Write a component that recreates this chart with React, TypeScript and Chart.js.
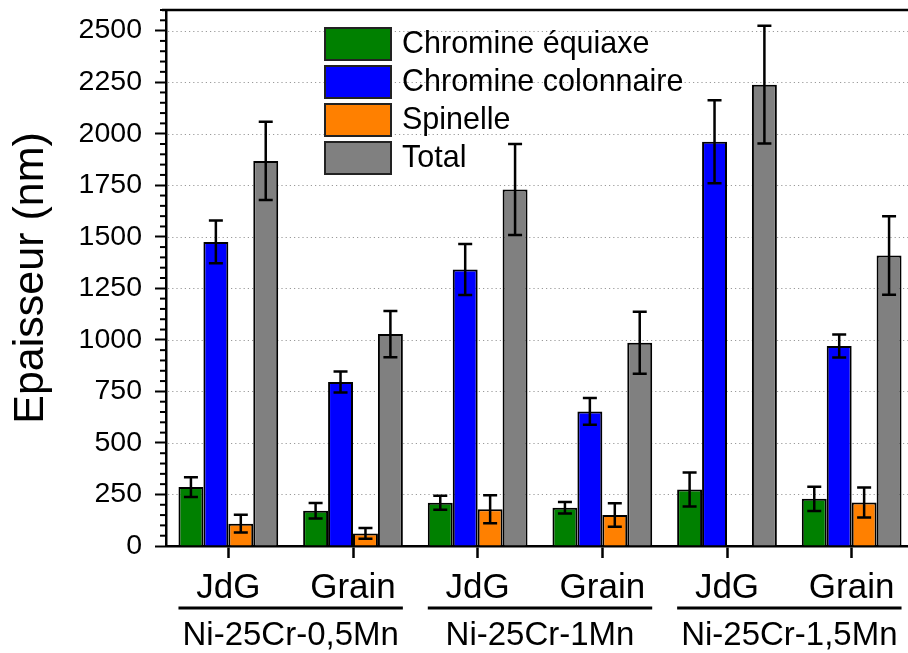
import React, { useEffect, useRef } from "react";
import { Chart, registerables } from "chart.js";

Chart.register(...registerables);

const categories = ["JdG", "Grain", "JdG", "Grain", "JdG", "Grain"];
const groups = ["Ni-25Cr-0,5Mn", "Ni-25Cr-1Mn", "Ni-25Cr-1,5Mn"];

const equiaxe = [286, 171, 210, 186, 274, 229];
const equiaxeErr = [48, 38, 34, 28, 83, 59];
const colonnaire = [1475, 795, 1341, 653, 1961, 970];
const colonnaireErr = [104, 51, 124, 65, 201, 56];
const spinelle = [108, 61, 178, 150, 0, 211];
const spinelleErr = [43, 26, 68, 57, 0, 73];
const total = [1868, 1028, 1729, 986, 2238, 1409];
const totalErr = [190, 112, 221, 150, 285, 190];

const seriesLabels = ["Chromine équiaxe", "Chromine colonnaire", "Spinelle", "Total"];
const seriesColors = ["#008000", "#0000ff", "#ff8000", "#808080"];

const yMax = 2600;
const yStep = 250;
const yMinorStep = 50;

const FONT = "'Liberation Sans', Arial, Helvetica, sans-serif";

const gridPlugin = {
  id: "dottedGrid",
  beforeDatasetsDraw(chart: any) {
    const { ctx, chartArea } = chart;
    const y = chart.scales.y;
    ctx.save();
    ctx.strokeStyle = "#9a9a9a";
    ctx.lineWidth = 1.2;
    ctx.setLineDash([1.2, 3]);
    y.ticks.forEach((t: any) => {
      if (t.value === 0) return;
      const py = Math.round(y.getPixelForValue(t.value)) + 0.5;
      ctx.beginPath();
      ctx.moveTo(chartArea.left + 2, py);
      ctx.lineTo(chartArea.right, py);
      ctx.stroke();
    });
    ctx.restore();
  },
};

const framePlugin = {
  id: "frame",
  afterDraw(chart: any) {
    const { ctx, chartArea } = chart;
    const y = chart.scales.y;
    ctx.save();
    ctx.strokeStyle = "#000";
    ctx.lineWidth = 2.5;
    ctx.beginPath();
    ctx.moveTo(chartArea.left - 4, chartArea.top);
    ctx.lineTo(chartArea.right, chartArea.top);
    ctx.stroke();
    ctx.lineWidth = 2;
    for (let v = 0; v <= yMax; v += yMinorStep) {
      if (v % yStep === 0) continue;
      const py = y.getPixelForValue(v);
      ctx.beginPath();
      ctx.moveTo(chartArea.left - 6, py);
      ctx.lineTo(chartArea.left, py);
      ctx.stroke();
    }
    const x = chart.scales.x;
    const catW = (x.right - x.left) / categories.length;
    groups.forEach((g, i) => {
      const x1 = x.getPixelForValue(2 * i) - catW * 0.4;
      const x2 = x.getPixelForValue(2 * i + 1) + catW * 0.4;
      ctx.lineWidth = 3;
      ctx.beginPath();
      ctx.moveTo(x1, 608);
      ctx.lineTo(x2, 608);
      ctx.stroke();
      ctx.fillStyle = "#000";
      ctx.font = `33px ${FONT}`;
      ctx.textAlign = "center";
      ctx.textBaseline = "alphabetic";
      ctx.fillText(g, (x1 + x2) / 2, 645);
    });
    ctx.restore();
  },
};

const errorBarPlugin = {
  id: "errorBars",
  afterDatasetsDraw(chart: any) {
    const { ctx } = chart;
    const y = chart.scales.y;
    ctx.save();
    ctx.strokeStyle = "#000";
    ctx.lineWidth = 2.5;
    ctx.setLineDash([]);
    chart.data.datasets.forEach((ds: any, i: number) => {
      const meta = chart.getDatasetMeta(i);
      meta.data.forEach((bar: any, j: number) => {
        const v = ds.data[j];
        const e = ds.errors[j];
        if (!e) return;
        const yt = y.getPixelForValue(v + e);
        const yb = y.getPixelForValue(v - e);
        const cx = bar.x;
        const hw = 7;
        ctx.beginPath();
        ctx.moveTo(cx, yt);
        ctx.lineTo(cx, yb);
        ctx.moveTo(cx - hw, yt);
        ctx.lineTo(cx + hw, yt);
        ctx.moveTo(cx - hw, yb);
        ctx.lineTo(cx + hw, yb);
        ctx.stroke();
      });
    });
    ctx.restore();
  },
};

const legendPlugin = {
  id: "boxLegend",
  afterDatasetsDraw(chart: any) {
    const { ctx } = chart;
    ctx.save();
    const bx = 325;
    const by = 28;
    const bw = 66;
    const bh = 32;
    const gap = 38;
    chart.data.datasets.forEach((ds: any, i: number) => {
      const top = by + i * gap;
      ctx.fillStyle = ds.backgroundColor;
      ctx.fillRect(bx, top, bw, bh);
      ctx.strokeStyle = "#222";
      ctx.lineWidth = 2;
      ctx.strokeRect(bx, top, bw, bh);
      ctx.fillStyle = "#000";
      ctx.font = `30.5px ${FONT}`;
      ctx.textAlign = "left";
      ctx.textBaseline = "middle";
      ctx.fillText(ds.label, bx + bw + 11, top + bh / 2 + 1);
    });
    ctx.restore();
  },
};

export default function App() {
  const ref = useRef<HTMLCanvasElement>(null);

  useEffect(() => {
    if (!ref.current) return;
    const values = [equiaxe, colonnaire, spinelle, total];
    const errs = [equiaxeErr, colonnaireErr, spinelleErr, totalErr];
    const chart = new Chart(ref.current, {
      type: "bar",
      data: {
        labels: categories,
        datasets: values.map((d, i) => ({
          label: seriesLabels[i],
          data: d,
          errors: errs[i],
          backgroundColor: seriesColors[i],
          borderColor: "#000",
          borderWidth: 2,
          categoryPercentage: 0.8,
          barPercentage: 1.0,
        })) as any,
      },
      options: {
        animation: false,
        responsive: false,
        devicePixelRatio: 1,
        layout: { padding: { top: 10, right: 2, left: 0, bottom: 0 } },
        plugins: { legend: { display: false }, tooltip: { enabled: false } },
        scales: {
          x: {
            type: "category",
            afterFit: (s: any) => {
              s.height = 107;
              s.paddingLeft = 0;
              s.paddingRight = 0;
            },
            grid: {
              display: true,
              drawOnChartArea: false,
              drawTicks: true,
              offset: false,
              tickLength: 12,
              tickWidth: 2.5,
              tickColor: "#000",
            },
            border: { display: true, color: "#000", width: 2.5 },
            ticks: {
              color: "#000",
              font: { family: FONT, size: 35 },
              padding: 9,
              maxRotation: 0,
              autoSkip: false,
            },
          },
          y: {
            min: 0,
            max: yMax,
            afterFit: (s: any) => {
              s.width = 166;
              s.paddingTop = 0;
              s.paddingBottom = 0;
            },
            grid: {
              display: true,
              drawOnChartArea: false,
              drawTicks: true,
              tickLength: 11,
              tickWidth: 2,
              tickColor: "#000",
            },
            border: { display: true, color: "#000", width: 2.5 },
            ticks: {
              stepSize: yStep,
              includeBounds: false,
              color: "#000",
              font: { family: FONT, size: 28.5 },
              padding: 13,
              callback: (v: any) => String(v),
            },
            title: {
              display: true,
              text: "Epaisseur (nm)",
              color: "#000",
              font: { family: FONT, size: 43, lineHeight: 1 },
              padding: { top: 10, bottom: 0 },
            },
          },
        },
      },
      plugins: [gridPlugin, errorBarPlugin, legendPlugin, framePlugin],
    } as any);
    return () => chart.destroy();
  }, []);

  return (
    <div
      style={{
        position: "absolute",
        left: 0,
        top: 0,
        width: 908,
        height: 653,
        overflow: "hidden",
        background: "#fff",
      }}
    >
      <canvas ref={ref} width={916} height={653} style={{ display: "block" }} />
    </div>
  );
}
